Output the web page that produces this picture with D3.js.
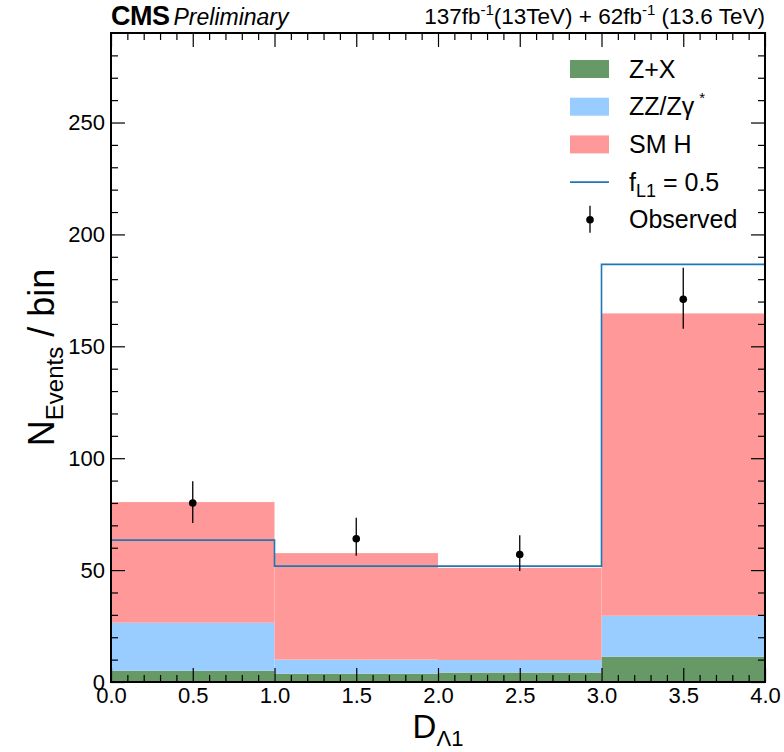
<!DOCTYPE html>
<html>
<head>
<meta charset="utf-8">
<script src="https://cdn.jsdelivr.net/npm/d3@7"></script>
<style>
  body { margin: 0; background: #fff; }
  text { font-family: "Liberation Sans", Arial, Helvetica, sans-serif; }
</style>
</head>
<body>
<div id="chart"></div>
<script>
const width = 784;
const height = 752;

const margin = { top: 33, left: 111, bottom: 70, right: 19 };

// bin edges and stacked components
const binEdges = [0, 1, 2, 3, 4];
const zx = [5.0, 3.7, 4.2, 11.3];
const zz = [21.5, 6.3, 5.6, 18.3];
const smh = [53.9, 47.6, 41.2, 135.1];
const fL1 = [63.4, 51.8, 51.8, 186.6];

const observed = [80, 64, 57, 171];
const errUp = [9.7, 9.4, 8.6, 14.1];
const errDown = [8.9, 7.6, 7.4, 13.1];

const xTicks = [0, 0.5, 1, 1.5, 2, 2.5, 3, 3.5, 4];
const yTicks = [0, 50, 100, 150, 200, 250];

const colors = { zx: "#669966", zz: "#99ccff", smh: "#ff9999", line: "#1f77b4" };

const innerW = width - margin.left - margin.right;
const innerH = height - margin.top - margin.bottom;

const xScale = d3.scaleLinear().domain([0, 4]).range([0, innerW]);
const yScale = d3.scaleLinear().domain([0, 290]).range([innerH, 0]);

const svg = d3.select("#chart").append("svg").attr("width", width).attr("height", height);
const g = svg.append("g").attr("transform", `translate(${margin.left},${margin.top})`);

// stacked histogram
const bins = zx.map((v, i) => ({
    x0: binEdges[i], x1: binEdges[i + 1],
    zx: v, zz: zz[i], smh: smh[i]
}));
const stack = d3.stack().keys(["zx", "zz", "smh"])(bins);

g.selectAll("g.layer")
    .data(stack)
    .join("g")
    .attr("class", "layer")
    .attr("fill", d => colors[d.key])
    .selectAll("rect")
    .data(d => d)
    .join("rect")
    .attr("x", d => xScale(d.data.x0))
    .attr("width", d => xScale(d.data.x1) - xScale(d.data.x0))
    .attr("y", d => yScale(d[1]))
    .attr("height", d => yScale(d[0]) - yScale(d[1]));

// f_L1 = 0.5 step line
const stepPts = [];
fL1.forEach((v, i) => {
    stepPts.push([binEdges[i], v]);
    stepPts.push([binEdges[i + 1], v]);
});
g.append("path")
    .datum(stepPts)
    .attr("fill", "none")
    .attr("stroke", colors.line)
    .attr("stroke-width", 1.6)
    .attr("d", d3.line().x(d => xScale(d[0])).y(d => yScale(d[1])));

// observed points
const obs = observed.map((v, i) => ({
    x: (binEdges[i] + binEdges[i + 1]) / 2, y: v, up: errUp[i], dn: errDown[i]
}));
g.selectAll("line.err")
    .data(obs)
    .join("line")
    .attr("class", "err")
    .attr("x1", d => xScale(d.x)).attr("x2", d => xScale(d.x))
    .attr("y1", d => yScale(d.y + d.up)).attr("y2", d => yScale(d.y - d.dn))
    .attr("stroke", "#000").attr("stroke-width", 1.3);
g.selectAll("circle.obs")
    .data(obs)
    .join("circle")
    .attr("class", "obs")
    .attr("cx", d => xScale(d.x)).attr("cy", d => yScale(d.y))
    .attr("r", 3.8).attr("fill", "#000");

// axes with minor ticks on all four sides
const xMinor = d3.range(0, 4.0001, 0.1).filter(v => Math.abs(v * 2 - Math.round(v * 2)) > 1e-6);
const yMinor = d3.range(0, 290, 10).filter(v => v % 50 !== 0);

function styleAxis(sel) {
    sel.select(".domain").remove();
    sel.selectAll("line").attr("stroke", "#000").attr("stroke-width", 1.2);
    sel.selectAll("text").attr("font-size", 22).attr("fill", "#000");
}

g.append("g").attr("transform", `translate(0,${innerH})`)
    .call(d3.axisTop(xScale).tickValues(xTicks).tickSize(14).tickFormat(""))
    .call(styleAxis);
g.append("g").attr("transform", `translate(0,${innerH})`)
    .call(d3.axisTop(xScale).tickValues(xMinor).tickSize(7).tickFormat(""))
    .call(styleAxis);
g.append("g").attr("transform", `translate(0,${innerH})`)
    .call(d3.axisBottom(xScale).tickValues(xTicks).tickSize(0).tickPadding(5).tickFormat(d3.format(".1f")))
    .call(styleAxis);
g.append("g")
    .call(d3.axisBottom(xScale).tickValues(xTicks).tickSize(14).tickFormat(""))
    .call(styleAxis);
g.append("g")
    .call(d3.axisBottom(xScale).tickValues(xMinor).tickSize(7).tickFormat(""))
    .call(styleAxis);

g.append("g")
    .call(d3.axisRight(yScale).tickValues(yTicks).tickSize(14).tickFormat(""))
    .call(styleAxis);
g.append("g")
    .call(d3.axisRight(yScale).tickValues(yMinor).tickSize(7).tickFormat(""))
    .call(styleAxis);
g.append("g")
    .call(d3.axisLeft(yScale).tickValues(yTicks).tickSize(0).tickPadding(6))
    .call(styleAxis);
g.append("g").attr("transform", `translate(${innerW},0)`)
    .call(d3.axisLeft(yScale).tickValues(yTicks).tickSize(14).tickFormat(""))
    .call(styleAxis);
g.append("g").attr("transform", `translate(${innerW},0)`)
    .call(d3.axisLeft(yScale).tickValues(yMinor).tickSize(7).tickFormat(""))
    .call(styleAxis);

// frame
g.append("rect")
    .attr("width", innerW).attr("height", innerH)
    .attr("fill", "none").attr("stroke", "#000").attr("stroke-width", 2);

// axis titles
const xTitle = svg.append("text")
    .attr("x", margin.left + innerW / 2).attr("y", 738)
    .attr("text-anchor", "middle").attr("font-size", 33);
xTitle.append("tspan").text("D");
xTitle.append("tspan").attr("font-size", 22).attr("dy", 8).text("Λ1");

const yTitle = svg.append("text")
    .attr("transform", `translate(54,${margin.top + innerH / 2}) rotate(-90)`)
    .attr("text-anchor", "middle").attr("font-size", 36);
yTitle.append("tspan").text("N");
yTitle.append("tspan").attr("font-size", 24).attr("dy", 9).text("Events");
yTitle.append("tspan").attr("dy", -9).text(" / bin");

// header
const head = svg.append("text").attr("x", margin.left).attr("y", 25);
head.append("tspan").attr("font-weight", "bold").attr("font-size", 27).attr("letter-spacing", -0.5).text("CMS");
head.append("tspan").attr("font-style", "italic").attr("font-size", 23).attr("dx", 4).text("Preliminary");

const lumi = svg.append("text").attr("x", margin.left + innerW).attr("y", 24)
    .attr("text-anchor", "end").attr("font-size", 22.5);
lumi.append("tspan").text("137fb");
lumi.append("tspan").attr("font-size", 15).attr("dy", -9).text("-1");
lumi.append("tspan").attr("dy", 9).text("(13TeV) + 62fb");
lumi.append("tspan").attr("font-size", 15).attr("dy", -9).text("-1");
lumi.append("tspan").attr("dy", 9).text(" (13.6 TeV)");

// legend
const legendItems = [
    { key: "zx", label: "Z+X" },
    { key: "zz", label: "ZZ/Zγ" },
    { key: "smh", label: "SM H" },
    { key: "line", label: "f" },
    { key: "obs", label: "Observed" }
];
const lg = svg.append("g").attr("transform", "translate(570,69)");
legendItems.forEach((d, i) => {
    const row = lg.append("g").attr("transform", `translate(0,${i * 37.7})`);
    if (d.key === "line") {
        row.append("line").attr("x1", 0).attr("x2", 39).attr("y1", 0).attr("y2", 0)
            .attr("stroke", colors.line).attr("stroke-width", 1.6);
    } else if (d.key === "obs") {
        row.append("line").attr("x1", 20).attr("x2", 20).attr("y1", -14).attr("y2", 13)
            .attr("stroke", "#000").attr("stroke-width", 1.3);
        row.append("circle").attr("cx", 20).attr("cy", 0).attr("r", 3.8).attr("fill", "#000");
    } else {
        row.append("rect").attr("x", 0).attr("y", -9).attr("width", 39).attr("height", 18)
            .attr("fill", colors[d.key]);
    }
    const t = row.append("text").attr("x", 59).attr("y", 8.5).attr("font-size", 25);
    t.append("tspan").text(d.label);
    if (d.key === "zz") {
        t.append("tspan").attr("font-size", 15).attr("dy", -12).attr("dx", 5).text("*");
    }
    if (d.key === "line") {
        t.append("tspan").attr("font-size", 18).attr("dy", 6).text("L1");
        t.append("tspan").attr("dy", -6).text(" = 0.5");
    }
});
</script>
</body>
</html>
